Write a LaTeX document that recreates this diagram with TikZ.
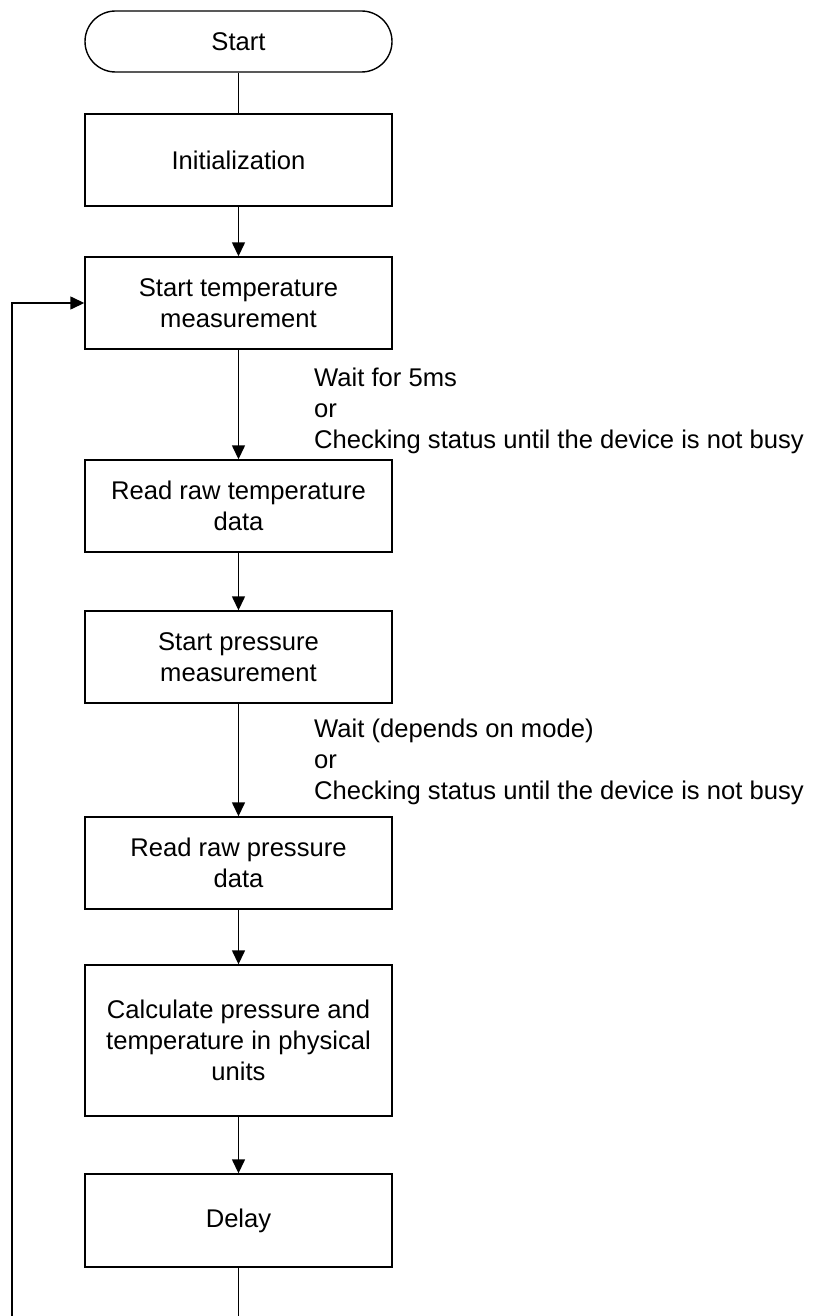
\documentclass[tikz,border=0pt]{standalone}
\usepackage{fontspec}
\setmainfont{Liberation Sans}
\usetikzlibrary{arrows.meta}
\begin{document}
\begin{tikzpicture}[x=1pt,y=-1pt,
  every node/.style={font=\fontsize{25.6}{31}\selectfont},
  proc/.style={draw, line width=1.4pt, minimum width=307pt, align=center, inner sep=0pt},
  term/.style={proc, rounded corners=30.5pt},
  conn/.style={line width=1.4pt},
  arr/.style={conn, -{Triangle[length=14pt,width=13pt]}},
  note/.style={anchor=north west, align=left, inner sep=0pt}]
\useasboundingbox (0,0) rectangle (814,1316);
\clip (0,0) rectangle (814,1316);
\node[term, minimum height=61pt] (start) at (238.5,41.5) {Start};
\node[proc, minimum height=92pt] (init) at (238.5,160) {Initialization};
\node[proc, minimum height=92pt] (st) at (238.5,303) {Start temperature\\measurement};
\node[proc, minimum height=92pt] (rrt) at (238.5,506) {Read raw temperature\\data};
\node[proc, minimum height=92pt] (sp) at (238.5,657) {Start pressure\\measurement};
\node[proc, minimum height=92pt] (rrp) at (238.5,863) {Read raw pressure\\data};
\node[proc, minimum height=151pt] (calc) at (238.5,1040.5) {Calculate pressure and\\temperature in physical\\units};
\node[proc, minimum height=93pt] (delay) at (238.5,1220.5) {Delay};
\node[note] (w1) at (314,368) {Wait for 5ms\\or\\Checking status until the device is not busy};
\node[note] (w2) at (314,719) {Wait (depends on mode)\\or\\Checking status until the device is not busy};
\coordinate (lb) at (238.5,1340);
\coordinate (ll) at (12,1340);
\draw[conn] (start) -- (init);
\draw[arr] (init) -- (st);
\draw[arr] (st) -- (rrt);
\draw[arr] (rrt) -- (sp);
\draw[arr] (sp) -- (rrp);
\draw[arr] (rrp) -- (calc);
\draw[arr] (calc) -- (delay);
\draw[arr] (delay.south) -- (lb) -- (ll) |- (st.west);
\end{tikzpicture}
\end{document}
